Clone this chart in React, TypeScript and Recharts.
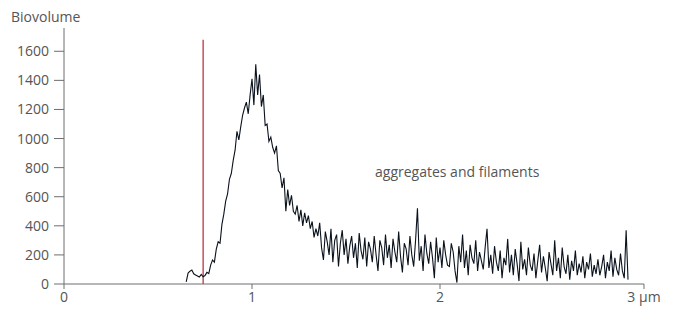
import { LineChart, Line, XAxis, YAxis, ReferenceLine } from "recharts";

// size bins are 0.01 µm wide, first bin at 0.65 µm
const FIRST_SIZE_UM = 0.65;
const BIN_UM = 0.01;

// 0.65 – 0.84 µm
const onsetBiovolume = [
  15, 75, 88, 96, 70, 62, 55, 48, 66, 50,
  58, 80, 72, 130, 165, 150, 240, 290, 280, 410,
];
// 0.85 – 1.34 µm
const peakBiovolume = [
  480, 570, 620, 720, 760, 850, 920, 1050, 990, 1080,
  1160, 1210, 1250, 1170, 1300, 1410, 1230, 1510, 1300, 1440,
  1220, 1300, 1090, 1100, 980, 1010, 940, 900, 950, 780,
  760, 660, 730, 500, 650, 540, 610, 500, 480, 540,
  430, 510, 400, 490, 420, 470, 380, 430, 320, 380,
];
// 1.35 – 2.04 µm
const shoulderBiovolume = [
  330, 420, 250, 165, 360, 290, 200, 380, 150, 300,
  340, 120, 280, 370, 200, 310, 140, 260, 330, 180,
  280, 110, 350, 230, 170, 320, 120, 290, 240, 150,
  330, 200, 90, 300, 250, 130, 340, 180, 270, 110,
  310, 220, 150, 360, 190, 80, 280, 240, 130, 330,
  200, 120, 300, 520, 160, 260, 90, 340, 210, 140,
  290, 180, 40, 320, 150, 250, 110, 300, 200, 130,
];
// 2.05 – 3.00 µm
const tailBiovolume = [
  120, 280, 220, 90, 10, 260, 150, 340, 110, 230,
  60, 270, 180, 140, 300, 90, 220, 160, 100, 250,
  380, 110, 200, 70, 260, 150, 90, 230, 40, 180,
  130, 310, 80, 200, 60, 240, 140, 20, 290, 100,
  170, 60, 250, 130, 90, 210, 40, 160, 270, 80,
  190, 110, 20, 220, 140, 60, 300, 90, 180, 40,
  250, 120, 70, 200, 30, 160, 90, 230, 60, 140,
  80, 190, 40, 150, 100, 210, 50, 130, 70, 170,
  60, 120, 200, 40, 150, 90, 230, 50, 180, 100,
  60, 210, 90, 40, 370, 30,
];

const CUTOFF_UM = 0.74;
const CUTOFF_TOP = 1680;
const X_END = 3.085;
const xTicks = [0, 1, 2, X_END];
const yTicks = [0, 200, 400, 600, 800, 1000, 1200, 1400, 1600];

const biovolume = [...onsetBiovolume, ...peakBiovolume, ...shoulderBiovolume, ...tailBiovolume];
const data = biovolume.map((v, i) => ({
  size: Math.round((FIRST_SIZE_UM + i * BIN_UM) * 100) / 100,
  value: v,
}));

const FONT = "'Open Sans', 'Noto Sans', sans-serif";
const TEXT = "#555";
const AXIS = "#6e6e6e";

export default function App() {
  return (
    <div style={{ position: "absolute", left: 0, top: 0, width: 680, height: 324, background: "#fff", fontFamily: FONT }}>
      <div style={{ position: "absolute", left: 11, top: 7, fontSize: 14, color: TEXT }}>Biovolume</div>
      <div style={{ position: "absolute", left: 375, top: 162, fontSize: 14, color: TEXT }}>aggregates and filaments</div>
      <LineChart width={680} height={324} data={data} margin={{ top: 28, right: 36, bottom: 10, left: 0 }}>
        <XAxis
          dataKey="size"
          type="number"
          domain={[0, X_END]}
          ticks={xTicks}
          tickFormatter={(v) => (v > 2.5 ? "3 µm" : String(v))}
          height={30}
          tickSize={5}
          tickMargin={3}
          stroke={AXIS}
          tick={{ fill: TEXT, fontSize: 14, fontFamily: FONT }}
          allowDataOverflow
        />
        <YAxis
          type="number"
          domain={[0, 1760]}
          ticks={yTicks}
          width={64}
          tickSize={10}
          tickMargin={5}
          stroke={AXIS}
          tick={{ fill: TEXT, fontSize: 14, fontFamily: FONT }}
          allowDataOverflow
        />
        <ReferenceLine
          segment={[{ x: CUTOFF_UM, y: 0 }, { x: CUTOFF_UM, y: CUTOFF_TOP }]}
          stroke="#b3262e"
          strokeWidth={1.2}
        />
        <Line
          type="linear"
          dataKey="value"
          stroke="#0a121c"
          strokeWidth={1.1}
          dot={false}
          isAnimationActive={false}
        />
      </LineChart>
    </div>
  );
}
